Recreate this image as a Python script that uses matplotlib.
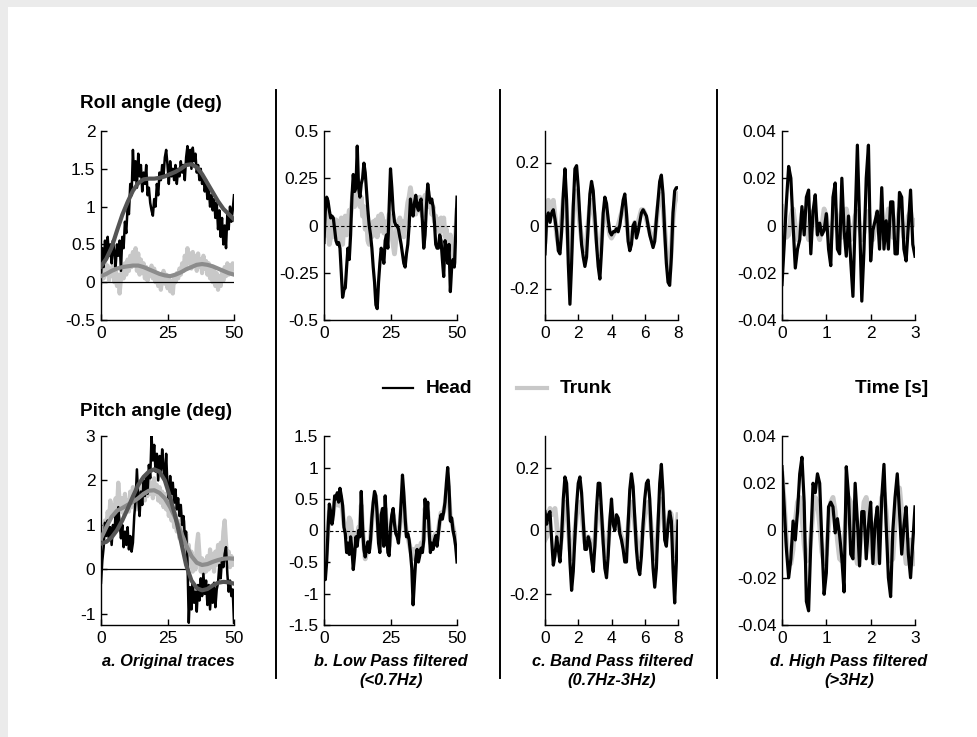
import numpy as np
import matplotlib
matplotlib.use('Agg')
import matplotlib.pyplot as plt
from matplotlib.lines import Line2D
from matplotlib.patches import Rectangle

plt.rcParams['font.family'] = ['Liberation Sans', 'DejaVu Sans']
plt.rcParams['axes.unicode_minus'] = False

# time bases (s)
t_long = np.linspace(0, 50, 101)
t_fit = np.linspace(0, 50, 26)
t_band = np.linspace(0, 8, 81)
t_high = np.linspace(0, 3, 61)

# ---- roll, original traces
roll_head = [0.10, 0.45, 0.20, 0.55, 0.30, 0.60, 0.35, 0.50, 0.25, 0.55,
             0.40, 0.20, 0.50, 0.35, 0.55, 0.15, 0.60, 0.45, 0.80, 0.65,
             1.00, 0.90, 1.30, 1.15, 1.75, 1.35, 1.60, 1.25, 1.70, 1.40,
             1.55, 1.20, 1.45, 1.30, 1.55, 1.15, 1.25, 1.05, 0.95, 0.88,
             1.10, 1.00, 1.30, 1.15, 1.45, 1.35, 1.55, 1.40, 1.65, 1.75,
             1.55, 1.30, 1.60, 1.40, 1.50, 1.35, 1.55, 1.30, 1.50, 1.40,
             1.60, 1.45, 1.55, 1.35, 1.65, 1.80, 1.55, 1.75, 1.50, 1.78,
             1.60, 1.70, 1.45, 1.55, 1.35, 1.50, 1.30, 1.40, 1.20, 1.35,
             1.10, 1.25, 1.00, 1.15, 0.95, 1.10, 0.85, 1.05, 0.70, 0.95,
             0.60, 0.85, 0.50, 0.75, 0.45, 0.90, 0.70, 1.00, 0.80, 0.95,
             1.15]
roll_trunk = [0.00, 0.20, 0.05, 0.28, 0.10, 0.22, 0.02, 0.18, 0.08, 0.25,
              0.00, 0.15, -0.05, 0.10, -0.15, 0.05, 0.20, 0.05, 0.25, 0.10,
              0.30, 0.15, 0.35, 0.20, 0.40, 0.25, 0.45, 0.15, 0.38, 0.10,
              0.30, 0.12, 0.25, 0.05, 0.20, 0.02, 0.15, 0.08, 0.22, 0.05,
              0.18, 0.00, 0.12, -0.05, 0.10, -0.10, 0.05, 0.15, -0.02, 0.10,
              -0.08, 0.05, -0.12, 0.02, -0.15, 0.08, 0.00, 0.12, 0.05, 0.18,
              0.10, 0.25, 0.15, 0.35, 0.20, 0.45, 0.25, 0.38, 0.18, 0.40,
              0.22, 0.35, 0.15, 0.38, 0.20, 0.30, 0.12, 0.35, 0.18, 0.28,
              0.10, 0.25, 0.05, 0.20, 0.00, 0.18, -0.05, 0.12, -0.10, 0.08,
              -0.05, 0.15, 0.02, 0.20, 0.08, 0.25, 0.10, 0.22, 0.12, 0.25,
              0.18]
roll_head_fit = [0.21, 0.31, 0.46, 0.68, 0.89, 1.06, 1.21, 1.31, 1.36, 1.37,
                 1.37, 1.38, 1.40, 1.43, 1.46, 1.50, 1.55, 1.56, 1.52, 1.43,
                 1.31, 1.19, 1.07, 0.97, 0.90, 0.83]
roll_trunk_fit = [0.08, 0.11, 0.15, 0.18, 0.20, 0.21, 0.22, 0.22, 0.20, 0.17,
                  0.14, 0.11, 0.09, 0.08, 0.10, 0.13, 0.17, 0.20, 0.23, 0.24,
                  0.23, 0.21, 0.18, 0.15, 0.12, 0.10]

# ---- pitch, original traces
pitch_head = [-0.30, 0.20, 0.50, 1.05, 0.75, 1.10, 0.70, 0.95, 0.55, 1.00,
              0.80, 1.25, 0.90, 1.40, 1.05, 0.70, 1.00, 0.50, 0.85, 0.55,
              0.95, 0.45, 0.75, 0.40, 0.60, 1.20, 1.55, 2.25, 1.60, 1.20,
              1.75, 1.45, 2.00, 1.65, 2.10, 1.70, 2.35, 2.05, 3.00, 2.45,
              2.80, 2.20, 2.60, 2.00, 2.55, 2.15, 2.70, 2.30, 2.00, 2.60,
              1.85, 1.60, 2.10, 1.70, 1.95, 1.50, 1.80, 1.35, 1.60, 1.20,
              1.45, 1.00, 1.20, 0.75, 0.85, 0.20, -1.20, -0.40, -0.90, -0.30,
              -0.75, -0.50, -0.95, -0.35, -0.70, -0.20, -0.60, -0.10, -0.55, -0.25,
              -0.80, -0.35, -0.90, -0.40, -0.75, -0.30, -0.85, -0.45, -0.30, 0.10,
              -0.20, 0.25, 0.05, 0.35, 0.50, -0.10, -0.50, -0.25, -0.60, -0.45,
              -1.20]
pitch_trunk = [0.60, 0.90, 0.75, 1.10, 0.95, 1.30, 1.10, 1.55, 1.25, 1.45,
               1.20, 1.60, 1.35, 1.95, 1.55, 1.30, 1.60, 1.25, 1.70, 1.35,
               1.55, 1.30, 1.75, 1.40, 1.85, 1.45, 1.70, 1.35, 1.80, 1.50,
               1.95, 1.60, 1.85, 1.55, 2.00, 1.65, 2.10, 1.70, 1.95, 1.60,
               2.05, 1.70, 1.90, 1.55, 1.85, 1.50, 1.75, 1.40, 1.70, 1.35,
               1.55, 1.20, 1.50, 1.10, 1.35, 0.95, 1.25, 0.85, 1.10, 0.70,
               1.00, 0.60, 1.10, 0.45, 0.80, 0.25, 0.55, 0.05, 0.40, -0.05,
               0.30, 0.00, 0.55, 0.80, 0.35, -0.05, 0.25, -0.10, 0.20, -0.05,
               0.30, 0.00, 0.45, 0.05, 0.35, -0.05, 0.40, 0.10, 0.55, 0.15,
               0.60, 0.30, 0.85, 1.10, 0.60, 0.20, 0.40, 0.05, 0.30, 0.10,
               0.25]
pitch_head_fit = [0.58, 0.62, 0.72, 0.88, 1.10, 1.36, 1.64, 1.90, 2.08, 2.20,
                  2.25, 2.20, 2.00, 1.62, 1.18, 0.65, 0.10, -0.25, -0.42, -0.47,
                  -0.44, -0.36, -0.30, -0.28, -0.29, -0.32]
pitch_trunk_fit = [0.70, 0.95, 1.18, 1.32, 1.38, 1.45, 1.52, 1.60, 1.70, 1.77,
                   1.78, 1.72, 1.60, 1.40, 1.15, 0.85, 0.55, 0.30, 0.15, 0.10,
                   0.12, 0.17, 0.21, 0.24, 0.25, 0.24]

# ---- low pass (<0.7Hz)
roll_low_head = [-0.09, 0.08, 0.15, 0.13, 0.08, 0.04, 0.05, 0.04, -0.02, -0.08,
                 -0.10, -0.09, -0.12, -0.25, -0.38, -0.34, -0.33, -0.22, -0.12, -0.18,
                 -0.05, 0.15, 0.27, 0.18, 0.20, 0.42, 0.20, 0.15, 0.22, 0.25,
                 0.33, 0.28, 0.18, 0.08, 0.00, -0.05, -0.12, -0.22, -0.30, -0.42,
                 -0.44, -0.30, -0.20, -0.12, -0.15, -0.20, -0.08, -0.05, -0.12, 0.10,
                 0.30, 0.20, 0.08, 0.02, 0.00, 0.00, -0.02, -0.06, -0.10, -0.15,
                 -0.20, -0.22, -0.15, -0.10, 0.00, 0.14, 0.08, 0.05, 0.12, 0.16,
                 0.10, 0.08, 0.12, 0.14, 0.02, -0.12, -0.05, 0.10, 0.22, 0.16,
                 0.12, 0.14, 0.10, 0.02, -0.10, -0.12, -0.12, -0.05, -0.08, -0.18,
                 -0.27, -0.08, -0.12, -0.20, -0.10, -0.35, -0.22, -0.18, -0.22, -0.05,
                 0.15]
roll_low_trunk = [-0.05, 0.05, 0.08, -0.02, -0.10, -0.06, 0.04, 0.00, -0.06, 0.03,
                  -0.05, 0.02, -0.08, 0.04, -0.10, 0.02, 0.05, -0.05, 0.02, 0.08,
                  0.05, 0.12, 0.18, 0.10, 0.20, 0.15, 0.22, 0.10, 0.15, 0.05,
                  0.10, -0.02, 0.05, -0.08, -0.10, 0.00, -0.06, 0.02, -0.05, 0.03,
                  -0.06, 0.05, -0.03, 0.06, 0.04, -0.04, 0.02, -0.06, 0.00, 0.06,
                  0.02, -0.05, -0.10, -0.15, -0.08, 0.02, -0.05, 0.04, -0.04, 0.02,
                  -0.06, 0.00, 0.06, 0.12, 0.15, 0.20, 0.15, 0.08, 0.12, 0.06,
                  0.14, 0.08, 0.15, 0.10, 0.05, 0.10, 0.16, 0.12, 0.18, 0.10,
                  0.12, 0.06, 0.10, 0.02, 0.05, -0.02, 0.03, -0.04, 0.04, -0.02,
                  0.04, -0.06, -0.02, -0.12, -0.15, -0.05, -0.10, -0.18, -0.20, -0.05,
                  0.08]
pitch_low_head = [-0.70, -0.78, -0.50, 0.00, 0.42, 0.30, 0.10, 0.25, 0.55, 0.50,
                  0.60, 0.45, 0.67, 0.55, 0.40, 0.05, -0.05, -0.35, -0.20, -0.38,
                  -0.10, -0.30, -0.62, -0.40, -0.10, -0.25, 0.00, -0.10, 0.62, 0.05,
                  -0.30, -0.42, -0.28, -0.18, -0.35, -0.15, 0.20, 0.45, 0.62, 0.55,
                  0.25, -0.20, -0.35, 0.25, 0.35, -0.25, 0.55, 0.05, -0.35, -0.40,
                  0.05, 0.25, 0.35, 0.10, -0.05, -0.10, -0.20, 0.10, 0.45, 0.88,
                  0.60, 0.20, -0.10, -0.05, -0.15, -0.35, -0.60, -1.18, -0.80, -0.45,
                  -0.30, -0.50, -0.40, -0.28, -0.35, -0.15, 0.50, 0.20, 0.45, 0.00,
                  -0.35, -0.20, -0.30, -0.15, -0.08, -0.25, -0.05, 0.15, 0.25, 0.18,
                  0.30, 0.45, 0.75, 1.00, 0.70, 0.15, 0.20, 0.00, -0.10, -0.25,
                  -0.50]
pitch_low_trunk = [-0.50, -0.45, -0.30, 0.05, 0.30, 0.25, 0.15, 0.30, 0.45, 0.42,
                   0.50, 0.40, 0.55, 0.45, 0.30, 0.10, 0.05, -0.10, 0.05, 0.20,
                   0.15, -0.05, -0.30, -0.20, -0.05, -0.15, 0.05, 0.00, 0.40, 0.05,
                   -0.25, -0.45, -0.35, -0.20, -0.30, -0.10, 0.15, 0.35, 0.50, 0.45,
                   0.25, -0.05, -0.20, 0.15, 0.25, -0.05, 0.35, 0.10, -0.20, -0.25,
                   0.00, 0.15, 0.25, 0.10, 0.00, -0.05, -0.10, 0.05, 0.30, 0.60,
                   0.45, 0.15, -0.05, -0.10, -0.20, -0.30, -0.40, -0.30, -0.45, -0.35,
                   -0.25, -0.35, -0.30, -0.20, -0.25, -0.10, 0.35, 0.15, 0.30, 0.05,
                   -0.20, -0.15, -0.20, -0.10, -0.05, -0.15, 0.00, 0.15, 0.28, 0.25,
                   0.30, 0.40, 0.60, 0.70, 0.50, 0.20, 0.15, 0.05, -0.05, -0.15,
                   -0.30]

# ---- band pass (0.7Hz-3Hz)
roll_band_head = [-0.09, 0.02, 0.04, 0.01, 0.04, 0.05, 0.02, -0.02, -0.08, -0.09,
                  -0.02, 0.10, 0.18, 0.08, -0.12, -0.25, -0.12, 0.06, 0.18, 0.19,
                  0.12, 0.02, -0.06, -0.10, -0.13, -0.10, 0.00, 0.10, 0.14, 0.11,
                  0.03, -0.06, -0.13, -0.17, -0.08, 0.04, 0.09, 0.07, 0.02, -0.02,
                  -0.03, -0.02, -0.02, -0.01, -0.02, 0.00, 0.04, 0.08, 0.10, 0.04,
                  -0.05, -0.08, -0.06, 0.00, 0.01, -0.04, -0.02, 0.01, 0.04, 0.05,
                  0.04, 0.03, 0.00, -0.03, -0.05, -0.07, -0.05, 0.02, 0.08, 0.14,
                  0.16, 0.10, -0.02, -0.12, -0.18, -0.19, -0.10, 0.04, 0.11, 0.12,
                  0.12]
roll_band_trunk = [-0.05, 0.04, 0.08, 0.05, 0.06, 0.08, 0.03, -0.03, -0.06, -0.04,
                   0.02, 0.08, 0.10, 0.03, -0.06, -0.12, -0.06, 0.04, 0.10, 0.11,
                   0.06, 0.00, -0.04, -0.07, -0.08, -0.05, 0.01, 0.06, 0.08, 0.06,
                   0.01, -0.04, -0.08, -0.09, -0.04, 0.02, 0.05, 0.04, 0.00, -0.03,
                   -0.04, -0.03, -0.02, -0.01, 0.00, 0.02, 0.04, 0.06, 0.06, 0.02,
                   -0.03, -0.05, -0.04, -0.01, 0.01, -0.01, 0.01, 0.03, 0.05, 0.05,
                   0.04, 0.02, 0.00, -0.02, -0.04, -0.05, -0.03, 0.01, 0.06, 0.09,
                   0.10, 0.06, -0.01, -0.08, -0.13, -0.15, -0.08, 0.02, 0.07, 0.09,
                   0.10]
pitch_band_head = [0.06, 0.02, 0.05, 0.06, -0.03, -0.11, -0.08, -0.02, -0.06, -0.10,
                   -0.02, 0.10, 0.17, 0.15, 0.04, -0.10, -0.19, -0.13, -0.02, 0.08,
                   0.15, 0.17, 0.12, 0.03, -0.06, -0.06, -0.02, -0.04, -0.09, -0.13,
                   -0.05, 0.07, 0.15, 0.15, 0.06, -0.04, -0.12, -0.15, -0.08, 0.03,
                   0.10, 0.02, 0.00, 0.05, 0.04, -0.01, -0.03, -0.06, -0.10, -0.10,
                   0.02, 0.13, 0.18, 0.14, 0.04, -0.06, -0.12, -0.14, -0.08, 0.02,
                   0.10, 0.15, 0.16, 0.10, -0.02, -0.12, -0.18, -0.12, 0.02, 0.15,
                   0.21, 0.12, -0.03, -0.05, 0.02, 0.06, 0.03, -0.12, -0.23, -0.10,
                   0.03]
pitch_band_trunk = [-0.03, -0.02, 0.04, 0.07, 0.05, 0.06, 0.07, 0.02, -0.04, -0.06,
                    -0.02, 0.05, 0.09, 0.08, 0.01, -0.06, -0.09, -0.06, 0.00, 0.05,
                    0.08, 0.09, 0.06, 0.01, -0.04, -0.04, -0.02, -0.03, -0.05, -0.07,
                    -0.03, 0.04, 0.08, 0.08, 0.03, -0.02, -0.06, -0.08, -0.04, 0.02,
                    0.06, 0.04, 0.02, 0.04, 0.03, 0.00, -0.02, -0.04, -0.06, -0.05,
                    0.01, 0.07, 0.09, 0.07, 0.02, -0.03, -0.07, -0.08, -0.04, 0.01,
                    0.05, 0.08, 0.09, 0.06, 0.00, -0.06, -0.09, -0.06, 0.01, 0.08,
                    0.10, 0.06, 0.00, -0.02, 0.02, 0.06, 0.05, -0.02, -0.08, -0.02,
                    0.05]

# ---- high pass (>3Hz)
roll_high_head = [-0.025, -0.008, 0.010, 0.025, 0.020, 0.000, -0.018, -0.010, -0.006, 0.008,
                  -0.004, 0.012, 0.015, -0.012, 0.006, 0.013, -0.004, 0.001, -0.004, -0.002,
                  0.005, -0.010, -0.017, 0.012, 0.018, -0.010, -0.012, 0.020, -0.002, -0.013,
                  0.004, -0.015, -0.030, 0.002, 0.034, 0.002, -0.032, -0.010, 0.020, 0.034,
                  -0.015, -0.002, 0.002, 0.006, -0.010, 0.016, -0.010, 0.002, -0.010, 0.010,
                  0.010, -0.012, -0.012, 0.014, 0.012, -0.010, -0.015, 0.000, 0.015, -0.008,
                  -0.013]
roll_high_trunk = [0.008, 0.002, -0.005, -0.004, 0.004, 0.007, 0.000, -0.006, -0.003, 0.005,
                   0.006, -0.002, -0.006, -0.002, 0.006, 0.005, -0.003, -0.006, 0.000, 0.007,
                   0.004, -0.004, -0.006, 0.001, 0.007, 0.003, -0.005, -0.005, 0.002, 0.007,
                   0.002, -0.006, -0.004, 0.004, 0.006, -0.001, -0.006, -0.003, 0.005, 0.006,
                   -0.002, -0.006, -0.001, 0.006, 0.005, -0.003, -0.006, 0.000, 0.007, 0.003,
                   -0.005, -0.005, 0.002, 0.007, 0.002, -0.005, -0.004, 0.004, 0.006, 0.000,
                   0.002]
pitch_high_head = [0.027, 0.010, -0.008, -0.020, -0.012, 0.004, -0.004, 0.008, 0.024, 0.031,
                   0.012, -0.030, -0.034, -0.005, 0.020, 0.016, 0.024, 0.020, -0.005, -0.027,
                   -0.018, 0.010, 0.012, 0.010, -0.001, 0.005, -0.002, -0.012, -0.026, 0.027,
                   0.015, -0.010, -0.012, 0.020, 0.004, -0.015, 0.008, 0.008, -0.012, 0.002,
                   0.012, -0.014, 0.003, 0.010, -0.014, 0.014, 0.028, 0.002, -0.020, -0.028,
                   0.000, 0.014, 0.024, 0.008, -0.010, 0.002, 0.010, -0.010, -0.020, -0.005,
                   0.010]
pitch_high_trunk = [0.024, 0.012, -0.004, -0.012, -0.014, -0.008, 0.004, 0.012, 0.014, 0.006,
                    -0.006, -0.013, -0.012, -0.003, 0.008, 0.014, 0.012, 0.002, -0.009, -0.014,
                    -0.010, 0.002, 0.012, 0.014, 0.008, -0.004, -0.012, -0.013, -0.005, 0.007,
                    0.014, 0.012, 0.002, -0.009, -0.014, -0.010, 0.002, 0.012, 0.014, 0.008,
                    -0.004, -0.012, -0.014, -0.006, 0.006, 0.014, 0.016, 0.008, -0.004, -0.013,
                    -0.012, 0.002, 0.014, 0.018, 0.008, -0.006, -0.014, -0.012, -0.004, -0.010,
                    -0.014]

W, H = 977, 737
HEAD = 'black'
TRUNK = '#c8c8c8'
HEAD_FIT = '#555555'
TRUNK_FIT = '#8c8c8c'

fig = plt.figure(figsize=(W / 100, H / 100), dpi=100, facecolor='#ebebeb')
fig.patches.append(Rectangle((8 / W, 0), 1 - 8 / W, 1 - 7 / H, transform=fig.transFigure,
                             facecolor='white', edgecolor='none', zorder=-10))


def panel(left, top, xticks, yticks, ylim, width=133, height=189):
    ax = fig.add_axes([left / W, 1 - (top + height) / H, width / W, height / H])
    ax.set_facecolor('none')
    for s in ['top', 'right']:
        ax.spines[s].set_visible(False)
    for s in ['left', 'bottom']:
        ax.spines[s].set_linewidth(1.0)
    ax.set_xlim(xticks[0], xticks[-1])
    ax.set_ylim(*ylim)
    ax.set_xticks(xticks)
    ax.set_xticklabels(['%g' % v for v in xticks])
    ax.set_yticks(yticks)
    ax.set_yticklabels(['%g' % v for v in yticks])
    ax.tick_params(direction='in', length=4, width=1, labelsize=12.5, pad=4)
    return ax


def filtered(ax, t, trunk, head):
    ax.plot(t, trunk, color=TRUNK, lw=3.5, solid_joinstyle='round', zorder=2)
    ax.axhline(0, color='black', lw=0.8, ls=(0, (3, 2)), zorder=3)
    ax.plot(t, head, color=HEAD, lw=2.3, solid_joinstyle='round', zorder=4)


cols = [101, 324, 545, 782]
rows = [131, 436]

# roll row
ax = panel(cols[0], rows[0], [0, 25, 50], [-0.5, 0, 0.5, 1, 1.5, 2], (-0.5, 2))
ax.plot(t_long, roll_trunk, color=TRUNK, lw=3.0, zorder=2)
ax.axhline(0, color='black', lw=0.9, zorder=3)
ax.plot(t_long, roll_head, color=HEAD, lw=1.8, zorder=4)
ax.plot(t_fit, roll_trunk_fit, color=TRUNK_FIT, lw=3.0, zorder=5)
ax.plot(t_fit, roll_head_fit, color=HEAD_FIT, lw=3.0, zorder=5)

ax = panel(cols[1], rows[0], [0, 25, 50], [-0.5, -0.25, 0, 0.25, 0.5], (-0.5, 0.5))
filtered(ax, t_long, roll_low_trunk, roll_low_head)
ax = panel(cols[2], rows[0], [0, 2, 4, 6, 8], [-0.2, 0, 0.2], (-0.3, 0.3))
filtered(ax, t_band, roll_band_trunk, roll_band_head)
ax = panel(cols[3], rows[0], [0, 1, 2, 3], [-0.04, -0.02, 0, 0.02, 0.04], (-0.04, 0.04))
filtered(ax, t_high, roll_high_trunk, roll_high_head)

# pitch row
ax = panel(cols[0], rows[1], [0, 25, 50], [-1, 0, 1, 2, 3], (-1.25, 3))
ax.plot(t_long, pitch_trunk, color=TRUNK, lw=3.0, zorder=2)
ax.hlines(0, 0, 33, color='black', lw=0.9, zorder=3)
ax.plot(t_long, pitch_head, color=HEAD, lw=1.8, zorder=4)
ax.plot(t_fit, pitch_trunk_fit, color=TRUNK_FIT, lw=3.0, zorder=5)
ax.plot(t_fit, pitch_head_fit, color=HEAD_FIT, lw=3.0, zorder=5)

ax = panel(cols[1], rows[1], [0, 25, 50], [-1.5, -1, -0.5, 0, 0.5, 1, 1.5], (-1.5, 1.5))
filtered(ax, t_long, pitch_low_trunk, pitch_low_head)
ax = panel(cols[2], rows[1], [0, 2, 4, 6, 8], [-0.2, 0, 0.2], (-0.3, 0.3))
filtered(ax, t_band, pitch_band_trunk, pitch_band_head)
ax = panel(cols[3], rows[1], [0, 1, 2, 3], [-0.04, -0.02, 0, 0.02, 0.04], (-0.04, 0.04))
filtered(ax, t_high, pitch_high_trunk, pitch_high_head)


def fx(x):
    return x / W


def fy(y):
    return 1 - y / H


# column separators
for xs in [276, 500, 717]:
    fig.add_artist(Line2D([fx(xs), fx(xs)], [fy(90), fy(678)], color='black', lw=1.4))

# row titles
fig.text(fx(80), fy(103), 'Roll angle (deg)', fontsize=13.6, fontweight='bold', va='center')
fig.text(fx(80), fy(412), 'Pitch angle (deg)', fontsize=13.6, fontweight='bold', va='center')

# legend row
fig.add_artist(Line2D([fx(383), fx(413)], [fy(388), fy(388)], color=HEAD, lw=1.6))
fig.text(fx(426), fy(388), 'Head', fontsize=13.8, fontweight='bold', va='center')
fig.add_artist(Line2D([fx(517), fx(547)], [fy(388), fy(388)], color=TRUNK, lw=3.0))
fig.text(fx(560), fy(388), 'Trunk', fontsize=13.8, fontweight='bold', va='center')
fig.text(fx(855), fy(388), 'Time [s]', fontsize=13.8, fontweight='bold', va='center')

# panel captions
captions = ['a. Original traces', 'b. Low Pass filtered\n(<0.7Hz)',
            'c. Band Pass filtered\n(0.7Hz-3Hz)', 'd. High Pass filtered\n(>3Hz)']
for left, cap in zip(cols, captions):
    fig.text(fx(left + 67), fy(654), cap, fontsize=11.8, fontweight='bold', fontstyle='italic',
             ha='center', va='top', linespacing=1.35)

fig.savefig('out.png', dpi=100, facecolor=fig.get_facecolor())
